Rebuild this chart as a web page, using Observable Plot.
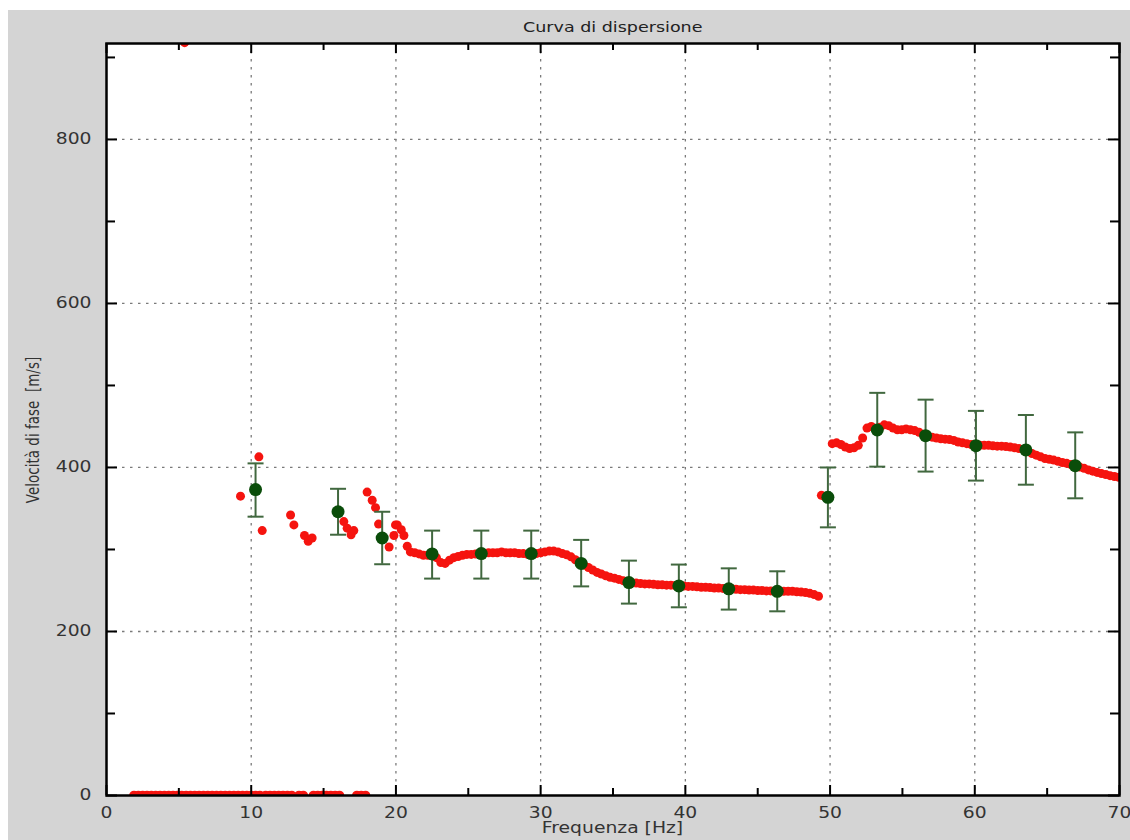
<!DOCTYPE html>
<html><head><meta charset="utf-8">
<script src="https://cdn.jsdelivr.net/npm/d3@7"></script>
<script src="https://cdn.jsdelivr.net/npm/@observablehq/plot@0.6"></script>
<style>
body{margin:0;background:#fff;}
#wrap{position:absolute;left:8px;top:10px;width:1122px;height:830px;background:#d4d4d4;font-family:"DejaVu Sans",sans-serif;color:#333;overflow:hidden;}
#wrap svg{position:absolute;left:0;top:0;}
.lbl{position:absolute;white-space:pre;}
.lbl span{display:inline-block;}
#title{left:98px;width:1013px;top:7px;line-height:20px;text-align:center;font-size:14px;color:#222;}
#title span{transform:scaleX(1.25);}
#xlab{left:98px;width:1013px;top:808px;line-height:20px;text-align:center;font-size:15px;}
#xlab span{transform:scaleX(1.25);}
#ylab{left:25px;top:420px;font-size:13.5px;line-height:16px;transform:translate(-50%,-50%) rotate(-90deg) scaleY(1.25);}
</style>
</head><body>
<div id="wrap">
  <div id="chart"></div>
  <div class="lbl" id="title"><span>Curva di dispersione</span></div>
  <div class="lbl" id="xlab"><span>Frequenza [Hz]</span></div>
  <div class="lbl" id="ylab">Velocità di fase  [m/s]</div>
</div>
<script>
// ---- data ----
const xMajor = [0,10,20,30,40,50,60,70];
const xMinor = [5,15,25,35,45,55,65];
const yMajor = [0,200,400,600,800];
const yMinor = [100,300,500,700,900];
const xGrid = [10,20,30,40,50,60];
const yGrid = [200,400,600,800];

// red picks at zero velocity
const zeroFreq = [1.9,2.2,2.5,2.8,3.1,3.4,3.7,4.0,4.3,4.6,4.9,5.2,5.5,5.8,6.1,6.4,6.7,7.0,7.3,7.6,7.9,8.2,8.5,8.8,9.1,9.4,9.7,10.0,10.3,10.6,11.0,11.3,11.6,11.9,12.2,12.5,12.8,13.3,13.6,14.3,14.6,14.9,15.2,15.5,15.8,16.1,17.3,17.6,17.9];

// red picks (scattered, low frequency)
const scatFreq = [5.4,9.26,10.53,10.76,12.72,12.95,13.68,13.94,14.21,16.40,16.63,16.90,17.09,18.01,18.36,18.59,18.80,19.53,19.86,19.97,20.09,20.37,20.55,20.78];
const scatVel  = [918,365,413,323,342,330,317,310,314,334,326,318,323,370,360,351,331,303,317,330,330,324,317,304];

// red picks, branch 21-49 Hz
const segAFreq = [21.0,21.3,21.6,21.9,22.2,22.5,22.8,23.1,23.4,23.7,24.0,24.3,24.6,24.9,25.2,25.5,25.8,26.1,26.4,26.7,27.0,27.3,27.6,27.9,28.2,28.5,28.8,29.1,29.4,29.7,30.0,30.3,30.6,30.9,31.2,31.5,31.8,32.1,32.4,32.7,33.0,33.3,33.6,33.9,34.2,34.5,34.8,35.1,35.4,35.7,36.0,36.3,36.6,36.9,37.2,37.5,37.8,38.1,38.4,38.7,39.0,39.3,39.6,39.9,40.2,40.5,40.8,41.1,41.4,41.7,42.0,42.3,42.6,42.9,43.2,43.5,43.8,44.1,44.4,44.7,45.0,45.3,45.6,45.9,46.2,46.5,46.8,47.1,47.4,47.7,48.0,48.3,48.6,48.9,49.2];
const segAVel  = [297,296,294.6,293,293,293.5,290,284,283,287,290,291.5,293,294,294,294.5,295,295.5,296,296,296,297,296,296,296,295,295,294,294,295,296,297,298,298,297,295,293.5,291,287.5,284,281,278,275,272,270,268,266,265,263.5,262,260,259.5,259,258.5,258,258,257.5,257,257,256.5,256.5,256,256,255.5,255,255,254.5,254,254,253.5,253,253,252.5,252,252,251.5,251,251,250.5,250.5,250,250,249.5,249.5,249,249,249,249,249,248.5,248,247.5,246.5,245,243];

// red picks, branch 49-70 Hz
const segBFreq = [49.40,49.60,49.85,50.15,50.45,50.75,51.05,51.35,51.65,51.95,52.25,52.55,52.85,53.15,53.45,53.75,54.05,54.35,54.65,54.95,55.25,55.55,55.85,56.15,56.45,56.75,57.05,57.35,57.65,57.95,58.25,58.55,58.85,59.15,59.45,59.75,60.05,60.35,60.65,60.95,61.25,61.55,61.85,62.15,62.45,62.75,63.05,63.35,63.65,63.95,64.25,64.55,64.85,65.15,65.45,65.75,66.05,66.35,66.65,66.95,67.25,67.55,67.85,68.15,68.45,68.75,69.05,69.35,69.65,69.95];
const segBVel  = [366,365,364,429,430,428,425,423,424,427,436,448,450,447,449,452,451,448,446,446,447,446,445,443,440,438,437,436,435,434.5,434,433,431,430,429,428,427,427,427,427,426.5,426,426,425.5,425,424,423,422,420,417,415,413,411,410,409,407.5,406,405,403.5,402,400.5,399,397,395.5,394,392.5,391.5,390,389,388];

// green mean points with error bars
const greenFreq = [10.3,16.0,19.05,22.5,25.9,29.35,32.8,36.1,39.55,43.0,46.35,49.85,53.26,56.6,60.08,63.53,66.94];
const greenVel  = [373,346,314,294.6,295,295,283,259.6,255.6,252,249,363.6,445.7,438.8,426.6,421.4,402.2];
const greenLo   = [340,318,282,264.5,264.5,264.5,255,234,229.5,226.7,224.6,327,401,395,384,379,362.4];
const greenHi   = [405,374,346,323,323,323,311.7,286.4,281.6,277,273.4,400,491,482.7,469,464,442.8];

// ---- build tables ----
const zip = (fs, vs) => fs.slice(0, Math.min(fs.length, vs.length)).map((f,i)=>({f, v: vs[i]}));
const zeros = zeroFreq.map(f=>({f, v:0}));
const reds = [...zip(scatFreq, scatVel), ...zip(segAFreq, segAVel), ...zip(segBFreq, segBVel)];
const greens = greenFreq.map((f,i)=>({f, v:greenVel[i], lo:greenLo[i], hi:greenHi[i]}));

const RED = "#f5140f", GREEN = "#0a4d0a", ERR = "#41683f";
const W = 1122, H = 830, mL = 98, mR = 11, mT = 33, mB = 45;
const frameW = W - mL - mR, frameH = H - mT - mB;
const cap = {draw(ctx, size){ const r = Math.sqrt(size/Math.PI); ctx.moveTo(-r,0); ctx.lineTo(r,0); }};
const gridStyle = {stroke:"#7a7a7a", strokeOpacity:1, strokeWidth:1.3, strokeDasharray:"2.5,5.5"};

const svg = Plot.plot({
  width: W, height: H,
  marginLeft: mL, marginRight: mR, marginTop: mT, marginBottom: mB,
  style: {background:"transparent", fontFamily:"DejaVu Sans, sans-serif", color:"#333"},
  x: {domain:[0,70]},
  y: {domain:[0,917]},
  marks: [
    Plot.frame({fill:"white", stroke:null}),
    Plot.gridX(xGrid, gridStyle),
    Plot.gridY(yGrid, gridStyle),
    Plot.dot(zeros, {x:"f", y:"v", r:4.8, fill:RED, clip:true}),
    Plot.dot(reds, {x:"f", y:"v", r:4.5, fill:RED, clip:true}),
    Plot.ruleX(greens, {x:"f", y1:"lo", y2:"hi", stroke:ERR, strokeWidth:2}),
    Plot.dot(greens, {x:"f", y:"lo", symbol:cap, r:8, stroke:ERR, strokeWidth:2, fill:"none"}),
    Plot.dot(greens, {x:"f", y:"hi", symbol:cap, r:8, stroke:ERR, strokeWidth:2, fill:"none"}),
    Plot.dot(greens, {x:"f", y:"v", r:6.5, fill:GREEN}),
    Plot.tickX(xMajor, {x:Plot.identity, insetTop:frameH-10, stroke:"black", strokeWidth:2}),
    Plot.tickX(xMinor, {x:Plot.identity, insetTop:frameH-7, stroke:"black", strokeWidth:2}),
    Plot.tickX(xMajor, {x:Plot.identity, insetBottom:frameH-10, stroke:"black", strokeWidth:2}),
    Plot.tickX(xMinor, {x:Plot.identity, insetBottom:frameH-7, stroke:"black", strokeWidth:2}),
    Plot.tickY(yMajor, {y:Plot.identity, insetRight:frameW-11, stroke:"black", strokeWidth:2}),
    Plot.tickY(yMinor, {y:Plot.identity, insetRight:frameW-9, stroke:"black", strokeWidth:2}),
    Plot.tickY(yMajor, {y:Plot.identity, insetLeft:frameW-11, stroke:"black", strokeWidth:2}),
    Plot.tickY(yMinor, {y:Plot.identity, insetLeft:frameW-9, stroke:"black", strokeWidth:2}),
    Plot.frame({stroke:"black", strokeWidth:2.5}),
    Plot.axisX(xMajor, {tickSize:0, tickPadding:12, fontSize:15, label:null}),
    Plot.axisY(yMajor, {tickSize:0, tickPadding:15, fontSize:15, label:null})
  ]
});
document.getElementById("chart").appendChild(svg);
// horizontally widened glyphs, as in the reference
d3.select(svg).selectAll('g[aria-label$="tick label"] text').each(function(){
  const t = this.getAttribute("transform") || "";
  this.setAttribute("transform", t + " scale(1.25,1)");
});
</script>
</body></html>
